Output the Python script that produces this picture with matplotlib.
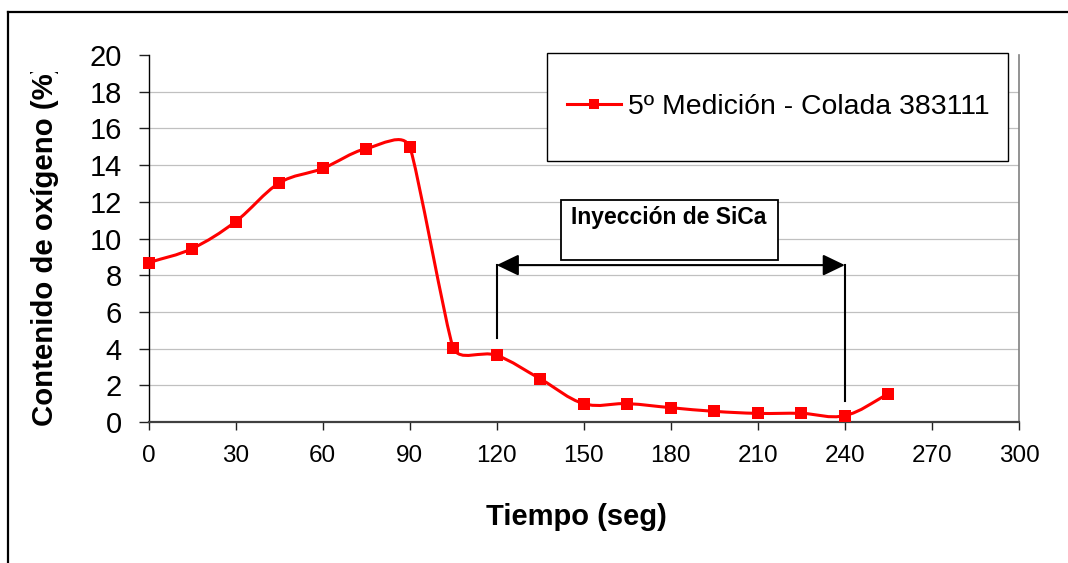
import numpy as np
import matplotlib
matplotlib.use("Agg")
import matplotlib.pyplot as plt
from matplotlib.path import Path
from matplotlib.patches import PathPatch, Rectangle
from matplotlib.lines import Line2D
from matplotlib.transforms import Bbox

# datos
tiempo = [0, 15, 30, 45, 60, 75, 90, 105, 120, 135, 150, 165, 180, 195, 210, 225, 240, 255]
oxigeno = [8.68, 9.45, 10.92, 13.02, 13.82, 14.90, 15.0, 4.05, 3.63, 2.35,
           1.0, 1.0, 0.78, 0.58, 0.47, 0.47, 0.35, 1.53]
serie = "5º Medición - Colada 383111"
xticks = [0, 30, 60, 90, 120, 150, 180, 210, 240, 270, 300]
yticks = [0, 2, 4, 6, 8, 10, 12, 14, 16, 18, 20]
inyeccion_inicio, inyeccion_fin = 120, 240
flecha_y = 8.55
marca_inicio_y, marca_fin_y = 4.58, 1.15

W, H = 1068, 563
plt.rcParams['font.family'] = ['Liberation Sans', 'DejaVu Sans']
fig = plt.figure(figsize=(W / 100, H / 100), dpi=100)


def fx(px):
    return px / W


def fy(py):
    return 1 - py / H


ax = fig.add_axes([fx(148.5), fy(422), fx(1019) - fx(148.5), fy(55) - fy(422)])
ax.set_xlim(0, 300)
ax.set_ylim(0, 20)


def smooth_path(x, y, sx, sy, k=0.38):
    """Linea suavizada (Bezier) que pasa por los puntos, como la de Excel."""
    p = np.column_stack([np.asarray(x, float) * sx, np.asarray(y, float) * sy])
    n = len(p)

    def arm(i):
        a = p[i - 1] if i > 0 else p[i]
        c = p[i + 1] if i < n - 1 else p[i]
        t = c - a
        t = t / np.hypot(*t)
        lens = []
        if i > 0:
            lens.append(np.hypot(*(p[i] - p[i - 1])))
        if i < n - 1:
            lens.append(np.hypot(*(p[i + 1] - p[i])))
        return t * min(lens) * k

    verts = [p[0]]
    codes = [Path.MOVETO]
    for i in range(n - 1):
        verts += [p[i] + arm(i), p[i + 1] - arm(i + 1), p[i + 1]]
        codes += [Path.CURVE4] * 3
    verts = np.array(verts) / [sx, sy]
    return Path(verts, codes)


rojo = '#ff0000'
curva = PathPatch(smooth_path(tiempo, oxigeno, 2.9, 18.35), fill=False,
                  edgecolor=rojo, lw=2.2, zorder=3, capstyle='round', joinstyle='round')
ax.add_patch(curva)
ax.plot(tiempo, oxigeno, ls='none', marker='s', ms=8.6, mew=0,
        color=rojo, zorder=4, clip_on=False)

# ejes y grilla
ax.set_xticks(xticks)
ax.set_yticks(yticks)
for yv in yticks[1:-1]:
    ax.axhline(yv, color='#c0c0c0', lw=0.9, zorder=1)
ax.spines['top'].set_visible(False)
ax.spines['right'].set_color('#808080')
ax.spines['right'].set_linewidth(1.2)
ax.spines['left'].set_color('black')
ax.spines['left'].set_linewidth(1.0)
ax.spines['bottom'].set_color('#404040')
ax.spines['bottom'].set_linewidth(1.6)
ax.tick_params(axis='y', direction='out', length=7.2, width=1.0, color='#202020',
               labelsize=21, pad=12)
ax.tick_params(axis='x', direction='out', length=5.8, width=1.0, color='#202020',
               labelsize=17.5, pad=11)

# etiquetas de ejes
fig.text(fx(576.5), fy(525), "Tiempo (seg)", fontsize=21, fontweight='bold',
         ha='center', va='baseline')
ylab = fig.text(fx(53.4), fy(426), "Contenido de oxígeno (%)", fontsize=21.2,
                fontweight='bold', rotation=90, rotation_mode='anchor',
                ha='left', va='baseline')
# en el original el parentesis final queda cortado
ylab.set_clip_box(Bbox.from_extents(0, 0, W, H - 72))
ylab.set_clip_on(True)

# leyenda
fig.add_artist(Rectangle((fx(547), fy(161)), fx(1008) - fx(547), fy(53) - fy(161),
                         transform=fig.transFigure, fill=True, facecolor='white',
                         edgecolor='black', lw=1.0, zorder=5))
handle = Line2D([], [], color=rojo, lw=2.2, marker='s', ms=7.3, mew=0)
leg = fig.legend([handle], [serie], loc='center left',
                 bbox_to_anchor=(fx(567), fy(107)), frameon=False, fontsize=20.4,
                 handlelength=1.9, handletextpad=0.25, borderpad=0, borderaxespad=0)
leg.set_zorder(6)

# anotacion de la inyeccion
fig.add_artist(Rectangle((fx(561), fy(260)), fx(778) - fx(561), fy(200) - fy(260),
                         transform=fig.transFigure, fill=True, facecolor='white',
                         edgecolor='black', lw=1.3, zorder=5))
fig.text(fx(571), fy(224), "Inyección de SiCa", fontsize=16.5, fontweight='bold',
         ha='left', va='baseline', zorder=6)
ax.annotate('', xy=(inyeccion_inicio, flecha_y), xytext=(inyeccion_fin, flecha_y),
            arrowprops=dict(arrowstyle='<|-|>,head_length=13.5,head_width=6.5',
                            mutation_scale=1, lw=1.5, color='black',
                            shrinkA=0, shrinkB=0), zorder=5)
ax.plot([inyeccion_inicio, inyeccion_inicio], [flecha_y, marca_inicio_y],
        color='black', lw=1.5, zorder=5)
ax.plot([inyeccion_fin, inyeccion_fin], [flecha_y, marca_fin_y],
        color='black', lw=1.5, zorder=5)

# marco exterior (solo borde superior e izquierdo visibles)
fig.add_artist(Line2D([fx(8), fx(1068)], [fy(12), fy(12)], color='black', lw=1.6))
fig.add_artist(Line2D([fx(8), fx(8)], [fy(12), fy(563)], color='black', lw=1.6))

fig.savefig('out.png', dpi=100)
